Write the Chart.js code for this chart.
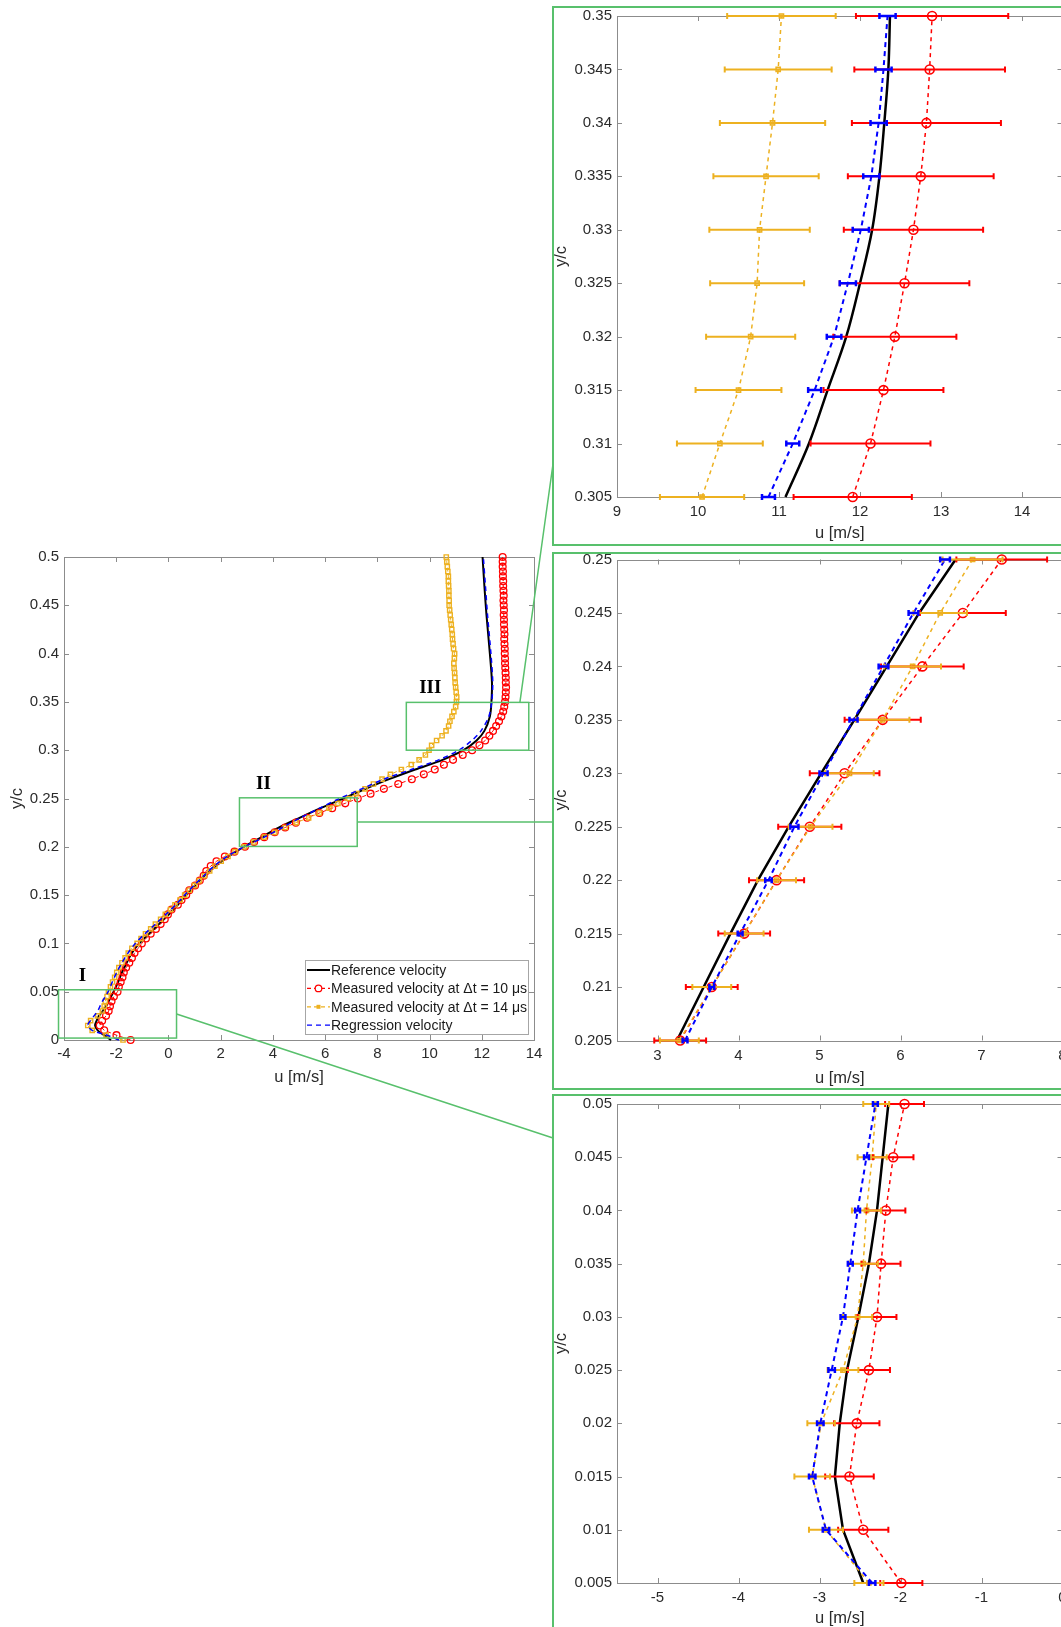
<!DOCTYPE html>
<html lang="en">
<head>
    <meta charset="UTF-8">
    <title>Velocity profile with zoomed regions</title>
    <script src="https://cdn.jsdelivr.net/npm/chart.js@4.4.1/dist/chart.umd.min.js"></script>
    <style>
        html, body {
            margin: 0;
            padding: 0;
            width: 1061px;
            height: 1627px;
            overflow: hidden;
            background: #fff;
        }
        canvas {
            position: absolute;
        }
        .frame {
            position: absolute;
            box-sizing: border-box;
            border: 2px solid rgb(88, 192, 108);
            pointer-events: none;
        }
    </style>
</head>
<body>
    <canvas id="mainChart" width="550" height="560" style="left:0;top:540px"></canvas>
    <canvas id="zoomIII" width="610" height="545" style="left:540px;top:0"></canvas>
    <canvas id="zoomII" width="610" height="545" style="left:540px;top:545px"></canvas>
    <canvas id="zoomI" width="610" height="540" style="left:540px;top:1090px"></canvas>

    <div id="frameIII" class="frame" style="left:552px;top:6px;width:620px;height:540px"></div>
    <div id="frameII" class="frame" style="left:552px;top:552px;width:620px;height:538px"></div>
    <div id="frameI" class="frame" style="left:552px;top:1094px;width:620px;height:600px"></div>

    <canvas id="links" width="1061" height="1627" style="left:0;top:0;pointer-events:none"></canvas>

    <script>
        // ---- full profile (main axes) ----
        const yGrid = [0, 0.005, 0.01, 0.015, 0.02, 0.025, 0.03, 0.035, 0.04, 0.045,
            0.05, 0.055, 0.06, 0.065, 0.07, 0.075, 0.08, 0.085, 0.09, 0.095,
            0.1, 0.105, 0.11, 0.115, 0.12, 0.125, 0.13, 0.135, 0.14, 0.145,
            0.15, 0.155, 0.16, 0.165, 0.17, 0.175, 0.18, 0.185, 0.19, 0.195,
            0.2, 0.205, 0.21, 0.215, 0.22, 0.225, 0.23, 0.235, 0.24, 0.245,
            0.25, 0.255, 0.26, 0.265, 0.27, 0.275, 0.28, 0.285, 0.29, 0.295,
            0.3, 0.305, 0.31, 0.315, 0.32, 0.325, 0.33, 0.335, 0.34, 0.345,
            0.35, 0.355, 0.36, 0.365, 0.37, 0.375, 0.38, 0.385, 0.39, 0.395,
            0.4, 0.405, 0.41, 0.415, 0.42, 0.425, 0.43, 0.435, 0.44, 0.445,
            0.45, 0.455, 0.46, 0.465, 0.47, 0.475, 0.48, 0.485, 0.49, 0.495, 0.5];

        const measured10 = [-1.45, -1.99, -2.46, -2.63, -2.54, -2.39, -2.29, -2.24, -2.18, -2.09,
            -1.95, -1.90, -1.83, -1.76, -1.71, -1.62, -1.50, -1.40, -1.30, -1.16,
            -1.02, -0.86, -0.68, -0.48, -0.30, -0.14, -0.02, 0.12, 0.36, 0.50,
            0.68, 0.80, 1.02, 1.20, 1.35, 1.45, 1.62, 1.84, 2.16, 2.53,
            2.93, 3.28, 3.67, 4.07, 4.47, 4.88, 5.31, 5.78, 6.27, 6.77,
            7.25, 7.74, 8.25, 8.80, 9.32, 9.78, 10.20, 10.55, 10.90, 11.27,
            11.63, 11.91, 12.13, 12.29, 12.43, 12.55, 12.66, 12.75, 12.82, 12.86,
            12.89, 12.91, 12.92, 12.93, 12.92, 12.92, 12.91, 12.90, 12.89, 12.89,
            12.88, 12.88, 12.87, 12.86, 12.87, 12.86, 12.85, 12.85, 12.84, 12.85,
            12.84, 12.83, 12.84, 12.83, 12.82, 12.82, 12.81, 12.81, 12.80, 12.80, 12.80];

        const measured14 = [-1.74, -2.39, -2.92, -3.09, -2.98, -2.71, -2.53, -2.46, -2.42, -2.35,
            -2.30, -2.22, -2.14, -2.06, -1.98, -1.90, -1.78, -1.66, -1.54, -1.40,
            -1.20, -1.05, -0.88, -0.68, -0.50, -0.30, -0.12, 0.08, 0.25, 0.45,
            0.62, 0.80, 1.00, 1.18, 1.38, 1.58, 1.78, 2.02, 2.28, 2.55,
            2.90, 3.27, 3.67, 4.07, 4.47, 4.89, 5.37, 5.78, 6.15, 6.49,
            6.89, 7.20, 7.53, 7.85, 8.18, 8.50, 8.92, 9.30, 9.60, 9.84,
            9.98, 10.08, 10.27, 10.48, 10.63, 10.73, 10.78, 10.86, 10.93, 11.00,
            11.03, 11.04, 11.02, 11.00, 10.98, 10.97, 10.96, 10.94, 10.93, 10.95,
            10.96, 10.92, 10.90, 10.88, 10.87, 10.85, 10.83, 10.81, 10.79, 10.77,
            10.75, 10.75, 10.74, 10.74, 10.73, 10.72, 10.72, 10.70, 10.68, 10.66, 10.64];

        const lineY = [0, 0.005, 0.01, 0.015, 0.02, 0.025, 0.03, 0.035, 0.04, 0.045, 0.05,
            0.06, 0.07, 0.08, 0.09, 0.1, 0.11, 0.12, 0.13, 0.14, 0.15, 0.16, 0.17, 0.18, 0.19,
            0.2, 0.21, 0.22, 0.23, 0.24, 0.25, 0.26, 0.27, 0.28, 0.29, 0.3, 0.31, 0.32,
            0.335, 0.35, 0.37, 0.4, 0.44, 0.47, 0.5];

        const referenceU = [-2.2, -2.46, -2.71, -2.81, -2.75, -2.66, -2.52, -2.39, -2.29, -2.2, -2.1,
            -1.93, -1.78, -1.6, -1.4, -1.12, -0.74, -0.36, 0.02, 0.36, 0.68, 1.02, 1.38, 1.8, 2.3,
            2.88, 3.57, 4.24, 5.02, 5.83, 6.7, 7.55, 8.45, 9.45, 10.5, 11.3, 11.8, 12.1,
            12.31, 12.37, 12.39, 12.31, 12.18, 12.1, 12.03];

        const regressionU = [-1.9, -2.35, -2.92, -3.09, -2.99, -2.85, -2.71, -2.62, -2.53, -2.42, -2.31,
            -2.15, -1.98, -1.78, -1.55, -1.27, -0.9, -0.5, -0.1, 0.28, 0.62, 0.98, 1.35, 1.75, 2.25,
            2.9, 3.67, 4.37, 5.05, 5.79, 6.55, 7.4, 8.25, 9.3, 10.35, 11.12, 11.62, 11.97,
            12.27, 12.38, 12.42, 12.35, 12.22, 12.14, 12.06];

        // ---- zoom III : 0.305 <= y/c <= 0.35 ----
        const yIII = [0.305, 0.31, 0.315, 0.32, 0.325, 0.33, 0.335, 0.34, 0.345, 0.35];
        const refIII = [11.08, 11.37, 11.60, 11.83, 12.00, 12.15, 12.24, 12.30, 12.35, 12.37];
        const m10III = [11.91, 12.13, 12.29, 12.43, 12.55, 12.66, 12.75, 12.82, 12.86, 12.89];
        const m10ErrIII = [0.73, 0.74, 0.74, 0.76, 0.80, 0.86, 0.90, 0.92, 0.93, 0.94];
        const m14III = [10.05, 10.27, 10.50, 10.65, 10.73, 10.76, 10.84, 10.92, 10.99, 11.03];
        const m14ErrIII = [0.52, 0.53, 0.53, 0.55, 0.58, 0.62, 0.65, 0.65, 0.66, 0.67];
        const regIII = [10.87, 11.17, 11.44, 11.68, 11.85, 12.01, 12.14, 12.23, 12.29, 12.34];
        const regErrIII = [0.08, 0.08, 0.08, 0.09, 0.10, 0.10, 0.10, 0.10, 0.10, 0.10];

        // ---- zoom II : 0.205 <= y/c <= 0.25 ----
        const yII = [0.205, 0.21, 0.215, 0.22, 0.225, 0.23, 0.235, 0.24, 0.245, 0.25];
        const refII = [3.24, 3.57, 3.90, 4.24, 4.62, 5.02, 5.43, 5.83, 6.23, 6.68];
        const m10II = [3.28, 3.67, 4.07, 4.47, 4.88, 5.31, 5.78, 6.27, 6.77, 7.25];
        const m10ErrII = [0.32, 0.32, 0.32, 0.34, 0.39, 0.43, 0.47, 0.51, 0.53, 0.56];
        const m14II = [3.27, 3.67, 4.07, 4.47, 4.89, 5.37, 5.78, 6.15, 6.49, 6.89];
        const m14ErrII = [0.24, 0.24, 0.24, 0.24, 0.27, 0.30, 0.33, 0.35, 0.33, 0.37];
        const regII = [3.34, 3.67, 4.02, 4.37, 4.69, 5.05, 5.42, 5.79, 6.16, 6.55];
        const regErrII = [0.03, 0.03, 0.03, 0.04, 0.05, 0.05, 0.05, 0.06, 0.06, 0.06];

        // ---- zoom I : 0.005 <= y/c <= 0.05 ----
        const yI = [0.005, 0.01, 0.015, 0.02, 0.025, 0.03, 0.035, 0.04, 0.045, 0.05];
        const refI = [-2.46, -2.71, -2.81, -2.75, -2.66, -2.52, -2.39, -2.29, -2.22, -2.15];
        const m10I = [-1.99, -2.46, -2.63, -2.54, -2.39, -2.29, -2.24, -2.18, -2.09, -1.95];
        const m10ErrI = [0.26, 0.31, 0.30, 0.28, 0.26, 0.24, 0.24, 0.24, 0.25, 0.24];
        const m14I = [-2.39, -2.92, -3.09, -2.98, -2.71, -2.53, -2.46, -2.42, -2.35, -2.30];
        const m14ErrI = [0.18, 0.21, 0.22, 0.17, 0.19, 0.18, 0.18, 0.18, 0.18, 0.16];
        const regI = [-2.35, -2.92, -3.09, -2.99, -2.85, -2.71, -2.62, -2.53, -2.42, -2.31];
        const regErrI = [0.04, 0.04, 0.04, 0.04, 0.04, 0.03, 0.03, 0.03, 0.03, 0.03];

        // zoomed windows marked on the main axes (u range, y/c range)
        const zoomRegions = [
            { name: 'I', u: [-4.21, 0.31], y: [0.002, 0.052] },
            { name: 'II', u: [2.72, 7.23], y: [0.2004, 0.2507] },
            { name: 'III', u: [9.11, 13.8], y: [0.300, 0.3495] }
        ];
        const linkIIIAnchorU = 13.46;

        const RED = '#ff0000', GOLD = '#edb120', BLUE = '#0000ff', BLACK = '#000000';
        const GREEN = 'rgb(88, 192, 108)';
        const AXIS = '#8c8c8c';
        const FONT = "'Liberation Sans', Arial, sans-serif";

        Chart.defaults.font.family = FONT;
        Chart.defaults.color = '#2b2b2b';
        Chart.defaults.animation = false;

        function pts(us, ys) {
            return us.map((u, i) => ({ x: u, y: ys[i] }));
        }

        // MATLAB style box with inward ticks on all four sides
        const matlabAxes = {
            id: 'matlabAxes',
            beforeDatasetsDraw(chart) {
                const { ctx, chartArea: a, scales: { x, y } } = chart;
                const len = 5;
                ctx.save();
                ctx.strokeStyle = AXIS;
                ctx.lineWidth = 1;
                ctx.beginPath();
                x.ticks.forEach(t => {
                    const p = Math.round(x.getPixelForValue(t.value)) + 0.5;
                    ctx.moveTo(p, a.bottom); ctx.lineTo(p, a.bottom - len);
                    ctx.moveTo(p, a.top); ctx.lineTo(p, a.top + len);
                });
                y.ticks.forEach(t => {
                    const p = Math.round(y.getPixelForValue(t.value)) + 0.5;
                    ctx.moveTo(a.left, p); ctx.lineTo(a.left + len, p);
                    ctx.moveTo(a.right, p); ctx.lineTo(a.right - len, p);
                });
                ctx.stroke();
                ctx.strokeRect(Math.round(a.left) + 0.5, Math.round(a.top) + 0.5,
                    Math.round(a.width), Math.round(a.height));
                ctx.restore();
            }
        };

        // horizontal error bars, read from dataset.errX
        const errorBars = {
            id: 'errorBars',
            afterDatasetsDraw(chart) {
                const { ctx, scales: { x, y } } = chart;
                const sets = chart.data.datasets.slice().reverse();
                sets.forEach(ds => {
                    if (!ds.errX) return;
                    ctx.save();
                    ctx.strokeStyle = ds.borderColor;
                    ctx.lineWidth = ds.errWidth;
                    ctx.setLineDash([]);
                    ctx.beginPath();
                    ds.data.forEach((p, i) => {
                        const x0 = x.getPixelForValue(p.x - ds.errX[i]);
                        const x1 = x.getPixelForValue(p.x + ds.errX[i]);
                        const py = y.getPixelForValue(p.y);
                        ctx.moveTo(x0, py); ctx.lineTo(x1, py);
                        ctx.moveTo(x0, py - 3); ctx.lineTo(x0, py + 3);
                        ctx.moveTo(x1, py - 3); ctx.lineTo(x1, py + 3);
                    });
                    ctx.stroke();
                    ctx.restore();
                });
            }
        };

        // zoom boxes, their roman labels and the legend on the main axes
        const mainDecor = {
            id: 'mainDecor',
            afterDraw(chart) {
                const { ctx, chartArea: a, scales: { x, y } } = chart;
                ctx.save();
                zoomRegions.forEach(r => {
                    const l = x.getPixelForValue(r.u[0]), rr = x.getPixelForValue(r.u[1]);
                    const t = y.getPixelForValue(r.y[1]), b = y.getPixelForValue(r.y[0]);
                    ctx.strokeStyle = GREEN;
                    ctx.lineWidth = 1.5;
                    ctx.strokeRect(l, t, rr - l, b - t);
                    ctx.fillStyle = '#000';
                    ctx.font = "bold 19px 'Liberation Serif', 'Times New Roman', serif";
                    ctx.textAlign = 'center';
                    ctx.textBaseline = 'middle';
                    ctx.fillText(r.name, l + 24, t - 14);
                });

                // legend
                const w = 223, h = 74;
                const left = a.right - 6 - w, top = a.bottom - 6 - h;
                ctx.fillStyle = '#fff';
                ctx.fillRect(left, top, w, h);
                ctx.strokeStyle = '#a6a6a6';
                ctx.lineWidth = 1;
                ctx.strokeRect(Math.round(left) + 0.5, Math.round(top) + 0.5, w, h);
                const items = chart.data.datasets.slice().sort((p, q) => p.legendRank - q.legendRank);
                items.forEach((ds, i) => {
                    const cy = top + 10 + i * 18.4;
                    ctx.strokeStyle = ds.borderColor;
                    ctx.lineWidth = ds.borderWidth > 1.5 ? 2 : 1.2;
                    ctx.setLineDash(ds.borderDash || []);
                    ctx.beginPath();
                    ctx.moveTo(left + 2, cy); ctx.lineTo(left + 25, cy);
                    ctx.stroke();
                    ctx.setLineDash([]);
                    if (ds.pointStyle === 'circle' && ds.pointRadius > 0) {
                        ctx.fillStyle = '#fff';
                        ctx.beginPath();
                        ctx.arc(left + 13.5, cy, 3.3, 0, Math.PI * 2);
                        ctx.fill();
                        ctx.stroke();
                    } else if (ds.pointStyle === 'rect' && ds.pointRadius > 0) {
                        ctx.fillStyle = ds.borderColor;
                        ctx.fillRect(left + 11.5, cy - 2, 4, 4);
                    }
                    ctx.fillStyle = '#1a1a1a';
                    ctx.font = '14px ' + FONT;
                    ctx.textAlign = 'left';
                    ctx.textBaseline = 'middle';
                    ctx.fillText(ds.label, left + 26, cy + 1);
                });
                ctx.restore();
            }
        };

        function scaleOptions(o) {
            return {
                x: {
                    type: 'linear', min: o.xMin, max: o.xMax,
                    grid: { display: false, drawTicks: false },
                    border: { display: false },
                    ticks: {
                        stepSize: o.xStep, includeBounds: false, autoSkip: false, maxRotation: 0,
                        padding: o.xTickPad, font: { size: 15 },
                        callback: v => String(+v.toFixed(2))
                    },
                    title: { display: true, text: 'u [m/s]', font: { size: 16.5 }, padding: { top: 0, bottom: o.xTitlePad } },
                    afterFit: s => { s.height = o.xAxisH; }
                },
                y: {
                    type: 'linear', min: o.yMin, max: o.yMax,
                    grid: { display: false, drawTicks: false },
                    border: { display: false },
                    ticks: {
                        stepSize: o.yStep, autoSkip: false, padding: 5, font: { size: 15 },
                        callback: v => String(+v.toFixed(4))
                    },
                    title: { display: true, text: 'y/c', font: { size: 16.5 }, padding: { top: o.yTitlePad, bottom: 0 } },
                    afterFit: s => { s.width = o.yAxisW; }
                }
            };
        }

        // main axes: full profile
        const mainChart = new Chart(document.getElementById('mainChart'), {
            type: 'scatter',
            data: {
                datasets: [
                    {
                        label: 'Regression velocity', legendRank: 3,
                        data: pts(regressionU, lineY), showLine: true, tension: 0.3,
                        borderColor: BLUE, borderWidth: 1.5, borderDash: [5, 4],
                        pointRadius: 0, pointStyle: 'line', clip: false
                    },
                    {
                        label: 'Measured velocity at \u0394t = 14 \u03bcs', legendRank: 2,
                        data: pts(measured14, yGrid), showLine: true,
                        borderColor: GOLD, borderWidth: 1, borderDash: [4, 3],
                        pointStyle: 'rect', pointRadius: 3, pointBorderWidth: 1.4,
                        pointBackgroundColor: 'rgba(255,255,255,0)', pointBorderColor: GOLD, clip: false
                    },
                    {
                        label: 'Measured velocity at \u0394t = 10 \u03bcs', legendRank: 1,
                        data: pts(measured10, yGrid), showLine: true,
                        borderColor: RED, borderWidth: 1, borderDash: [4, 3],
                        pointStyle: 'circle', pointRadius: 3.4, pointBorderWidth: 1.3,
                        pointBackgroundColor: 'rgba(255,255,255,0)', pointBorderColor: RED, clip: false
                    },
                    {
                        label: 'Reference velocity', legendRank: 0,
                        data: pts(referenceU, lineY), showLine: true, tension: 0.3,
                        borderColor: BLACK, borderWidth: 2,
                        pointRadius: 0, pointStyle: 'line', clip: false
                    }
                ]
            },
            options: {
                responsive: false,
                layout: { padding: { top: 17, right: 16, left: 0, bottom: 0 } },
                plugins: { legend: { display: false }, tooltip: { enabled: false } },
                scales: scaleOptions({
                    xMin: -4, xMax: 14, xStep: 2, yMin: 0, yMax: 0.5, yStep: 0.05,
                    xTickPad: 5, xTitlePad: 13, xAxisH: 60, yTitlePad: 8, yAxisW: 64
                })
            },
            plugins: [matlabAxes, mainDecor]
        });

        function zoomChart(id, d, o) {
            return new Chart(document.getElementById(id), {
                type: 'scatter',
                data: {
                    datasets: [
                        {
                            label: 'Regression velocity',
                            data: pts(d.reg, d.y), errX: d.regErr, errWidth: 2.5, showLine: true,
                            borderColor: BLUE, borderWidth: 2, borderDash: [5, 4],
                            pointRadius: 0, clip: false
                        },
                        {
                            label: 'Measured velocity at \u0394t = 14 \u03bcs',
                            data: pts(d.m14, d.y), errX: d.m14Err, errWidth: 2, showLine: true,
                            borderColor: GOLD, borderWidth: 1.5, borderDash: [4, 4],
                            pointStyle: 'rect', pointRadius: 3, pointBorderWidth: 1.5,
                            pointBackgroundColor: 'rgba(237,177,32,0.3)', pointBorderColor: GOLD, clip: false
                        },
                        {
                            label: 'Measured velocity at \u0394t = 10 \u03bcs',
                            data: pts(d.m10, d.y), errX: d.m10Err, errWidth: 2, showLine: true,
                            borderColor: RED, borderWidth: 1.5, borderDash: [4, 4],
                            pointStyle: 'circle', pointRadius: 4.5, pointBorderWidth: 1.6,
                            pointBackgroundColor: 'rgba(255,255,255,0)', pointBorderColor: RED, clip: false
                        },
                        {
                            label: 'Reference velocity',
                            data: pts(d.ref, d.y), showLine: true, tension: o.refTension,
                            borderColor: BLACK, borderWidth: 2.5, pointRadius: 0, clip: false
                        }
                    ]
                },
                options: {
                    responsive: false,
                    layout: { padding: { top: o.padTop, right: 87.5, left: 0, bottom: 0 } },
                    plugins: { legend: { display: false }, tooltip: { enabled: false } },
                    scales: scaleOptions({
                        xMin: o.xMin, xMax: o.xMin + 5.5, xStep: 1,
                        yMin: d.y[0], yMax: d.y[d.y.length - 1], yStep: 0.005,
                        xTickPad: 6, xTitlePad: 2, xAxisH: o.xAxisH, yTitlePad: 12, yAxisW: 77
                    })
                },
                plugins: [matlabAxes, errorBars]
            });
        }

        zoomChart('zoomIII',
            { y: yIII, ref: refIII, m10: m10III, m10Err: m10ErrIII, m14: m14III, m14Err: m14ErrIII, reg: regIII, regErr: regErrIII },
            { xMin: 9, padTop: 16, xAxisH: 48, refTension: 0.35 });
        zoomChart('zoomII',
            { y: yII, ref: refII, m10: m10II, m10Err: m10ErrII, m14: m14II, m14Err: m14ErrII, reg: regII, regErr: regErrII },
            { xMin: 2.5, padTop: 14.5, xAxisH: 49.5, refTension: 0 });
        zoomChart('zoomI',
            { y: yI, ref: refI, m10: m10I, m10Err: m10ErrI, m14: m14I, m14Err: m14ErrI, reg: regI, regErr: regErrI },
            { xMin: -5.5, padTop: 12, xAxisH: 47, refTension: 0 });

        // connector lines from the boxes to the zoom frames
        function drawLinks() {
            const ctx = document.getElementById('links').getContext('2d');
            const mc = mainChart.canvas.getBoundingClientRect();
            const xs = mainChart.scales.x, ys = mainChart.scales.y;
            const px = u => mc.left + xs.getPixelForValue(u);
            const py = v => mc.top + ys.getPixelForValue(v);
            const frame = id => document.getElementById(id).getBoundingClientRect();
            const [rI, rII, rIII] = zoomRegions;
            ctx.strokeStyle = GREEN;
            ctx.lineWidth = 1.5;
            ctx.beginPath();
            const f3 = frame('frameIII');
            ctx.moveTo(px(linkIIIAnchorU), py(rIII.y[1]));
            ctx.lineTo(f3.left + 1, f3.top + 458);
            const f2 = frame('frameII');
            const mid2 = py((rII.y[0] + rII.y[1]) / 2);
            ctx.moveTo(px(rII.u[1]), mid2);
            ctx.lineTo(f2.left + 1, mid2);
            const f1 = frame('frameI');
            ctx.moveTo(px(rI.u[1]), py((rI.y[0] + rI.y[1]) / 2));
            ctx.lineTo(f1.left + 1, f1.top + 44);
            ctx.stroke();
        }
        drawLinks();
    </script>
</body>
</html>
